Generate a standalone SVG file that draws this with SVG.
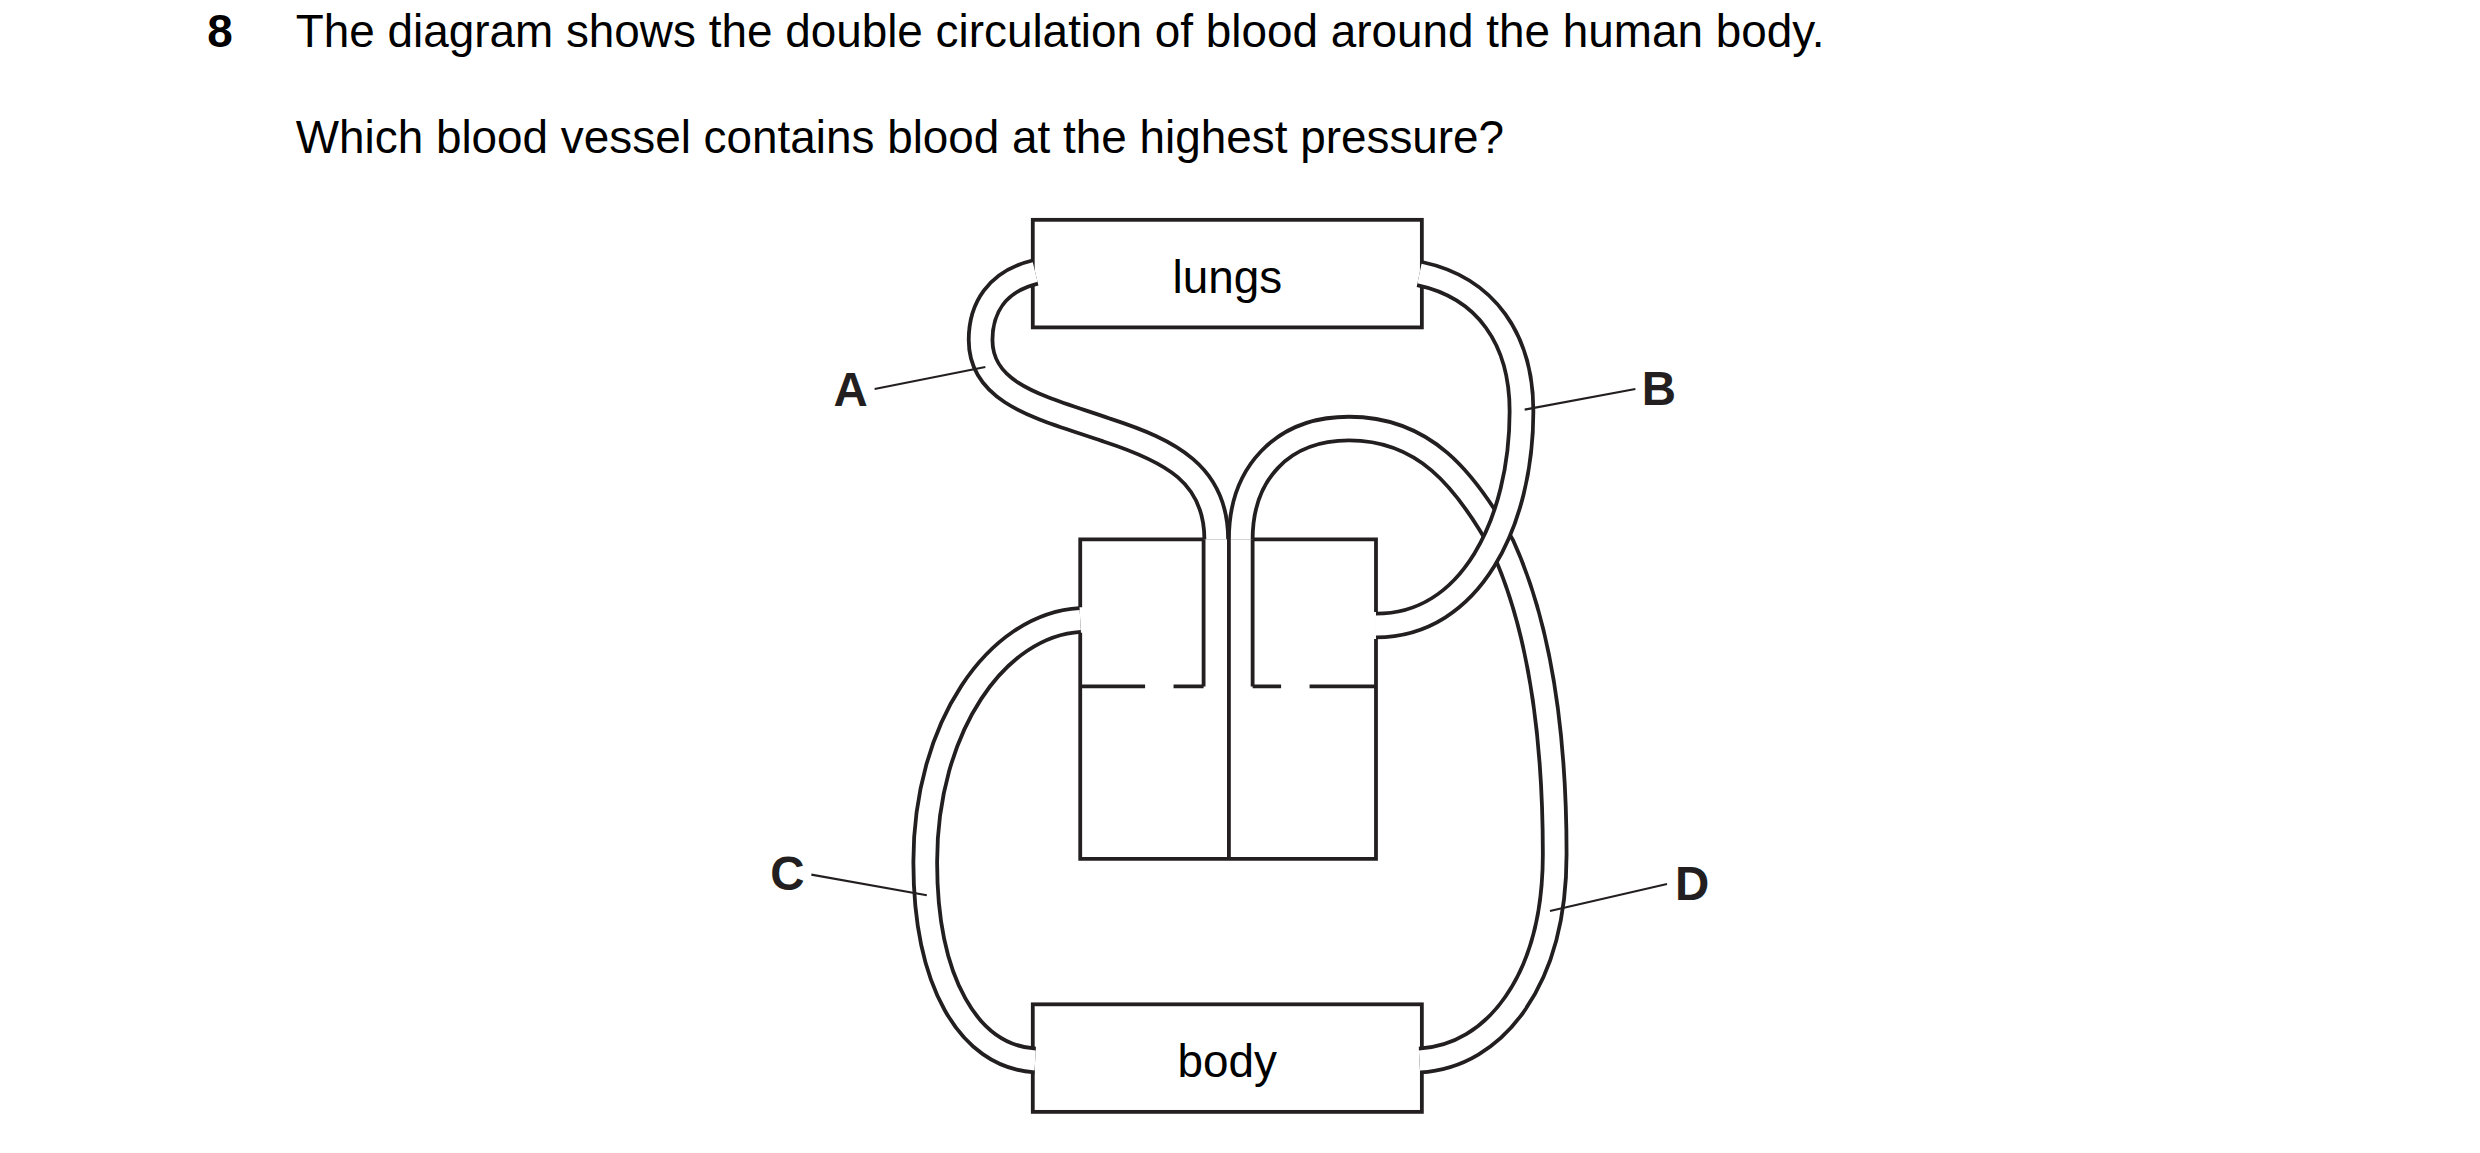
<svg xmlns="http://www.w3.org/2000/svg" width="2480" height="1153" viewBox="0 0 2480 1153">
<style>
.t{font-family:"Liberation Sans",Arial,sans-serif;font-size:29px;fill:#000}
.b{font-weight:bold}
.lbl{font-family:"Liberation Sans",Arial,sans-serif;font-size:30px;font-weight:bold;fill:#231f20}
.box{fill:#fff;stroke:#231f20;stroke-width:2.4}
.ln{fill:none;stroke:#231f20;stroke-width:2.4}
.lead{fill:none;stroke:#231f20;stroke-width:1.3}
.vo{fill:none;stroke:#231f20;stroke-width:17.4}
.vi{fill:none;stroke:#fff;stroke-width:12.6}
</style>
<rect width="2480" height="1153" fill="#fff"/>
<g transform="scale(1.5816)">
<g id="question">
<text class="t b" x="131" y="30">8</text>
<text class="t" x="187" y="30">The diagram shows the double circulation of blood around the human body.</text>
<text class="t" x="187" y="97">Which blood vessel contains blood at the highest pressure?</text>
</g>
<g id="lungs"><rect class="box" x="653" y="139" width="246" height="68"/><text class="t" x="776" y="185" text-anchor="middle">lungs</text></g>
<g id="body"><rect class="box" x="653" y="635" width="246" height="68"/><text class="t" x="776" y="681" text-anchor="middle">body</text></g>
<g id="heart">
<path class="ln" d="M761,341 H683 V384 M683,400 V543 H870 V404 M870,387 V341 H792 M777,330 V543 M761,341 V434 M792,341 V434 M683,434 H724 M742,434 H761 M792,434 H810 M828,434 H870"/>
</g>
<g id="connectors">
<g id="vessel-D"><path class="vo" d="M784.5,341 C784.5,300 810,271 853,271 C900,271 926,302 950,345 C975,400 983,470 983,540 C983,620 945,668 897.5,670.5"/><path class="vi" d="M784.5,341 C784.5,300 810,271 853,271 C900,271 926,302 950,345 C975,400 983,470 983,540 C983,620 945,668 897.5,670.5"/></g>
<g id="vessel-B"><path class="vo" d="M897.5,173 C940,182 962,215 962,260 C962,330 930,395.5 870,395.5"/><path class="vi" d="M897.5,173 C940,182 962,215 962,260 C962,330 930,395.5 870,395.5"/></g>
<g id="vessel-A"><path class="vo" d="M654.5,172 C630,178 620,195 620,215 C620,250 660,258 700,272 C740,285 769,300 769,341"/><path class="vi" d="M654.5,172 C630,178 620,195 620,215 C620,250 660,258 700,272 C740,285 769,300 769,341"/></g>
<g id="vessel-C"><path class="vo" d="M683,392 C630,395 585,460 585,545 C585,620 612,668 654.5,670.5"/><path class="vi" d="M683,392 C630,395 585,460 585,545 C585,620 612,668 654.5,670.5"/></g>
<path class="lead" d="M553,246 L623,232 M964,259 L1034,246 M513,553 L586,566 M980,576 L1054,559"/>
</g>
<g id="labels">
<text class="lbl" x="527" y="257">A</text>
<text class="lbl" x="1038" y="256">B</text>
<text class="lbl" x="487" y="563">C</text>
<text class="lbl" x="1059" y="569">D</text>
</g>
</g>
</svg>
